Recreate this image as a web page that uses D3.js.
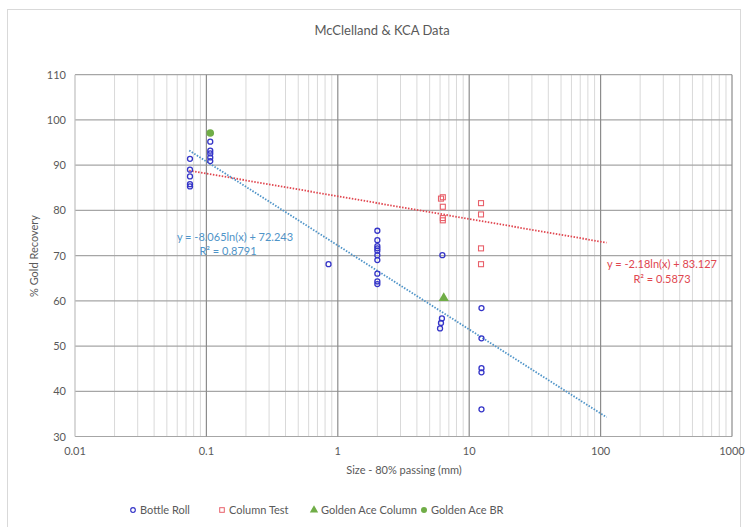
<!DOCTYPE html>
<html>
<head>
<meta charset="utf-8">
<script src="https://cdn.jsdelivr.net/npm/d3@7"></script>
<style>
  body { margin: 0; background: #fff; }
  text { font-family: Lato, "Open Sans", sans-serif; fill: #595959; }
</style>
</head>
<body>
<div id="chart"></div>
<script>
// data
var bottleRollX = [0.075, 0.075, 0.075, 0.075, 0.075,
                   0.107, 0.107, 0.107, 0.107, 0.107,
                   0.85,
                   2.0, 2.0, 2.0, 2.0, 2.0, 2.0, 2.0, 2.0, 2.0, 2.0,
                   6.25, 6.0, 6.1, 6.2,
                   12.4, 12.4, 12.4, 12.4, 12.4];
var bottleRollY = [91.4, 89.0, 87.5, 85.8, 85.3,
                   95.2, 93.2, 92.6, 91.7, 90.9,
                   68.1,
                   75.5, 73.4, 72.1, 71.6, 71.1, 70.1, 69.0, 66.0, 64.3, 63.7,
                   70.1, 53.9, 55.1, 56.1,
                   58.4, 51.7, 45.1, 44.2, 36.0];
var columnX = [6.1, 6.3, 6.3, 6.3, 6.3, 12.3, 12.3, 12.3, 12.3];
var columnY = [82.6, 82.9, 80.8, 78.3, 77.8, 81.6, 79.1, 71.6, 68.1];
var gaColumnX = [6.4];
var gaColumnY = [60.6];
var gaBrX = [0.107];
var gaBrY = [97.1];

// trendlines (from the labels on the chart)
var trendBR = { a: -8.065, b: 72.243, x0: 0.074, x1: 111 };
var trendCT = { a: -2.18, b: 83.127, x0: 0.074, x1: 111 };

var xTicks = [0.01, 0.1, 1, 10, 100, 1000];
var yTicks = [30, 40, 50, 60, 70, 80, 90, 100, 110];
var legendNames = ["Bottle Roll", "Column Test", "Golden Ace Column", "Golden Ace BR"];

var W = 748, H = 527;
var svg = d3.select("#chart").append("svg")
    .attr("width", W)
    .attr("height", H);

svg.append("rect")
    .attr("x", 7.5).attr("y", 9.5)
    .attr("width", 733).attr("height", 530)
    .attr("fill", "#fff")
    .attr("stroke", "#d9d9d9");

var x = d3.scaleLog().domain([0.01, 1000]).range([75, 732]);
var y = d3.scaleLinear().domain([30, 110]).range([436.5, 74.7]);

// minor vertical gridlines
var minor = [];
for (var d = 0.01; d < 1000; d *= 10) {
    for (var k = 2; k < 10; k++) minor.push(d * k);
}
svg.selectAll(".minor").data(minor).enter()
    .append("line")
    .attr("x1", function(v) { return x(v); })
    .attr("x2", function(v) { return x(v); })
    .attr("y1", y(110)).attr("y2", y(30))
    .attr("stroke", "#d9d9d9")
    .attr("stroke-width", 1);

// horizontal gridlines
svg.selectAll(".hgrid").data(yTicks).enter()
    .append("line")
    .attr("x1", x(0.01)).attr("x2", x(1000))
    .attr("y1", function(v) { return y(v); })
    .attr("y2", function(v) { return y(v); })
    .attr("stroke", "#a6a6a6")
    .attr("stroke-width", 1.2);

// major vertical gridlines
svg.selectAll(".major").data(xTicks).enter()
    .append("line")
    .attr("x1", function(v) { return x(v); })
    .attr("x2", function(v) { return x(v); })
    .attr("y1", y(110)).attr("y2", y(30))
    .attr("stroke", function(v) { return v == 0.01 ? "#bfbfbf" : "#8c8c8c"; })
    .attr("stroke-width", 1.2);

// tick labels
svg.selectAll(".ylab").data(yTicks).enter()
    .append("text")
    .attr("x", 66)
    .attr("y", function(v) { return y(v) + 4; })
    .attr("text-anchor", "end")
    .attr("font-size", 11)
    .text(function(v) { return v; });

svg.selectAll(".xlab").data(xTicks).enter()
    .append("text")
    .attr("x", function(v) { return x(v); })
    .attr("y", 455)
    .attr("text-anchor", "middle")
    .attr("font-size", 11)
    .text(function(v) { return v; });

// titles
svg.append("text")
    .attr("x", 382).attr("y", 35)
    .attr("text-anchor", "middle")
    .attr("font-size", 13)
    .text("McClelland & KCA Data");

svg.append("text")
    .attr("x", 404).attr("y", 474)
    .attr("text-anchor", "middle")
    .attr("font-size", 11)
    .text("Size - 80% passing (mm)");

svg.append("text")
    .attr("transform", "translate(38,256) rotate(-90)")
    .attr("text-anchor", "middle")
    .attr("font-size", 11)
    .text("% Gold Recovery");

// trendlines
function trendPts(t) {
    return [t.x0, t.x1].map(function(v) { return [v, t.a * Math.log(v) + t.b]; });
}
var line = d3.line()
    .x(function(p) { return x(p[0]); })
    .y(function(p) { return y(p[1]); });

svg.append("path")
    .attr("d", line(trendPts(trendCT)))
    .attr("fill", "none")
    .attr("stroke", "#e0464f")
    .attr("stroke-width", 1.8)
    .attr("stroke-dasharray", "1.5,1.5");

svg.append("path")
    .attr("d", line(trendPts(trendBR)))
    .attr("fill", "none")
    .attr("stroke", "#4f94c8")
    .attr("stroke-width", 1.8)
    .attr("stroke-dasharray", "1.5,1.5");

// points
var br = bottleRollX.map(function(v, i) { return [v, bottleRollY[i]]; });
var ct = columnX.map(function(v, i) { return [v, columnY[i]]; });
var gac = gaColumnX.map(function(v, i) { return [v, gaColumnY[i]]; });
var gab = gaBrX.map(function(v, i) { return [v, gaBrY[i]]; });

svg.selectAll(".ct").data(ct).enter()
    .append("rect")
    .attr("x", function(p) { return x(p[0]) - 2.5; })
    .attr("y", function(p) { return y(p[1]) - 2.5; })
    .attr("width", 5).attr("height", 5)
    .attr("fill", "none")
    .attr("stroke", "#e8606a")
    .attr("stroke-width", 1.1);

svg.selectAll(".br").data(br).enter()
    .append("circle")
    .attr("cx", function(p) { return x(p[0]); })
    .attr("cy", function(p) { return y(p[1]); })
    .attr("r", 2.5)
    .attr("fill", "none")
    .attr("stroke", "#3535c8")
    .attr("stroke-width", 1.3);

var tri = d3.symbol().type(d3.symbolTriangle).size(45);
svg.selectAll(".gac").data(gac).enter()
    .append("path")
    .attr("d", tri)
    .attr("transform", function(p) { return "translate(" + x(p[0]) + "," + y(p[1]) + ")"; })
    .attr("fill", "#70ad47");

svg.selectAll(".gab").data(gab).enter()
    .append("circle")
    .attr("cx", function(p) { return x(p[0]); })
    .attr("cy", function(p) { return y(p[1]); })
    .attr("r", 3.8)
    .attr("fill", "#70ad47");

// trendline labels
svg.append("text")
    .attr("x", 235).attr("y", 241)
    .attr("text-anchor", "middle")
    .attr("font-size", 11)
    .style("fill", "#4f94c8")
    .text("y = -8.065ln(x) + 72.243");
svg.append("text")
    .attr("x", 228).attr("y", 255)
    .attr("text-anchor", "middle")
    .attr("font-size", 11)
    .style("fill", "#4f94c8")
    .text("R² = 0.8791");

svg.append("text")
    .attr("x", 662).attr("y", 268)
    .attr("text-anchor", "middle")
    .attr("font-size", 11)
    .style("fill", "#e0464f")
    .text("y = -2.18ln(x) + 83.127");
svg.append("text")
    .attr("x", 662).attr("y", 283)
    .attr("text-anchor", "middle")
    .attr("font-size", 11)
    .style("fill", "#e0464f")
    .text("R² = 0.5873");

// legend
var legX = [133, 222, 314, 424];
var lg = svg.selectAll(".leg").data(legendNames).enter()
    .append("g")
    .attr("transform", function(d, i) { return "translate(" + legX[i] + ",510)"; });

lg.each(function(d, i) {
    var g = d3.select(this);
    if (i == 0) {
        g.append("circle").attr("r", 2.3).attr("fill", "none")
            .attr("stroke", "#3535c8").attr("stroke-width", 1.2);
    } else if (i == 1) {
        g.append("rect").attr("x", -2.3).attr("y", -2.3).attr("width", 4.6).attr("height", 4.6)
            .attr("fill", "none").attr("stroke", "#e8606a").attr("stroke-width", 1);
    } else if (i == 2) {
        g.append("path").attr("d", d3.symbol().type(d3.symbolTriangle).size(30)).attr("fill", "#70ad47");
    } else {
        g.append("circle").attr("r", 3).attr("fill", "#70ad47");
    }
    g.append("text")
        .attr("x", 7).attr("y", 4)
        .attr("font-size", 11)
        .text(d);
});
</script>
</body>
</html>
